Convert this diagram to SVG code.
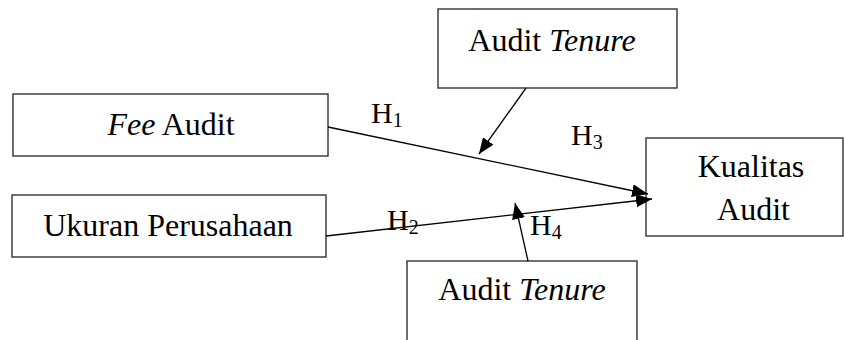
<svg xmlns="http://www.w3.org/2000/svg" width="844" height="340" viewBox="0 0 844 340">
  <style>
    .box { fill: #ffffff; stroke: #333333; stroke-width: 1.4; }
    .t { font-family: "Liberation Serif", "Times New Roman", serif; font-size: 32px; fill: #000000; text-anchor: middle; }
    .lbl { font-family: "Liberation Serif", "Times New Roman", serif; font-size: 30px; fill: #000000; }
    .sub { font-size: 20px; }
    .conn { stroke: #000000; stroke-width: 1.3; fill: none; marker-end: url(#arrow); }
  </style>
  <defs>
    <marker id="arrow" markerUnits="userSpaceOnUse" markerWidth="18" markerHeight="14" refX="16" refY="6.5" orient="auto">
      <path d="M0,0 L16,6.5 L0,13 z" fill="#000000"/>
    </marker>
  </defs>
  <rect width="844" height="340" fill="#ffffff"/>

  <g id="node-audit-tenure-top">
    <rect class="box" x="438" y="9" width="239" height="79"/>
    <text class="t" x="552" y="51">Audit <tspan font-style="italic">Tenure</tspan></text>
  </g>

  <g id="node-fee-audit">
    <rect class="box" x="13" y="94" width="315" height="62"/>
    <text class="t" x="171" y="135"><tspan font-style="italic">Fee</tspan> Audit</text>
  </g>

  <g id="node-ukuran-perusahaan">
    <rect class="box" x="12" y="195" width="314" height="62"/>
    <text class="t" x="168" y="236">Ukuran Perusahaan</text>
  </g>

  <g id="node-kualitas-audit">
    <rect class="box" x="646" y="138" width="197" height="98"/>
    <text class="t" x="751" y="177">Kualitas</text>
    <text class="t" x="753.5" y="220">Audit</text>
  </g>

  <g id="node-audit-tenure-bottom">
    <rect class="box" x="407" y="261" width="230" height="90"/>
    <text class="t" x="522" y="300">Audit <tspan font-style="italic">Tenure</tspan></text>
  </g>

  <g id="connectors">
    <line class="conn" x1="328" y1="127" x2="648" y2="194"/>
    <line class="conn" x1="326" y1="236" x2="652" y2="199"/>
    <line class="conn" x1="526" y1="88" x2="479" y2="154"/>
    <line class="conn" x1="528" y1="261" x2="515" y2="203"/>
  </g>

  <g id="labels">
    <text class="lbl" x="371" y="123">H<tspan class="sub" dy="4">1</tspan></text>
    <text class="lbl" x="571" y="145">H<tspan class="sub" dy="4">3</tspan></text>
    <text class="lbl" x="387" y="230">H<tspan class="sub" dy="4">2</tspan></text>
    <text class="lbl" x="530" y="235">H<tspan class="sub" dy="4">4</tspan></text>
  </g>
</svg>
